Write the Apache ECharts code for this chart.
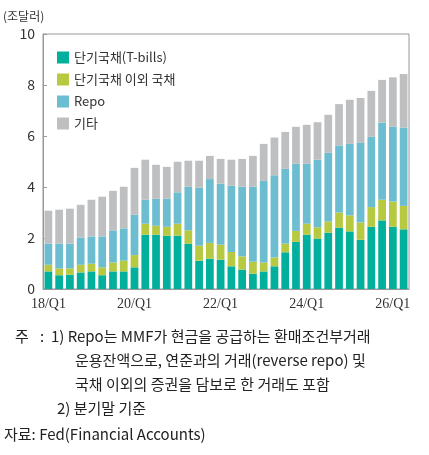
<!DOCTYPE html><html><head><meta charset="utf-8"><script src="https://cdn.jsdelivr.net/npm/echarts@6/dist/echarts.min.js"></script></head><body style="margin:0"><div id="c" style="width:429px;height:455px"></div><script>
const categories=[];for(let y=18;y<=26;y++)for(let q=1;q<=4;q++){if(y===26&&q>2)break;categories.push(y+'/Q'+q);}
const tbills=[0.69,0.54,0.56,0.65,0.69,0.54,0.69,0.69,0.85,2.13,2.13,2.09,2.09,1.78,1.11,1.19,1.15,0.89,0.76,0.60,0.69,0.89,1.44,1.85,2.13,1.98,2.21,2.40,2.26,1.93,2.44,2.69,2.44,2.34];
const otherTsy=[0.26,0.27,0.25,0.30,0.30,0.31,0.35,0.42,0.48,0.43,0.35,0.35,0.47,0.52,0.59,0.62,0.59,0.56,0.52,0.47,0.35,0.35,0.34,0.43,0.43,0.44,0.44,0.60,0.63,0.68,0.77,0.81,0.99,0.92];
const repo=[0.83,0.97,0.97,1.07,1.07,1.21,1.26,1.27,1.58,0.94,1.06,1.10,1.23,1.71,2.27,2.50,2.39,2.60,2.73,2.94,3.20,3.22,2.93,2.63,2.35,2.65,2.69,2.63,2.80,3.12,2.76,3.02,2.93,3.07];
const etc=[1.29,1.33,1.37,1.28,1.44,1.56,1.55,1.63,1.84,1.57,1.33,1.25,1.20,1.02,1.06,0.91,0.97,1.02,1.09,1.21,1.45,1.48,1.45,1.45,1.53,1.47,1.49,1.62,1.73,1.76,1.80,1.68,1.94,2.10];
const names=['단기국채(T-bills)','단기국채 이외 국채','Repo','기타'];
const colors=['#00b09c','#b6c940','#6dbdd1','#bdbfc1'];
const F='"Noto Sans CJK KR","Noto Sans",sans-serif';
const ch=echarts.init(document.getElementById('c'));
const notes=[['주',15,340],[':  1) Repo는 MMF가 현금을 공급하는 환매조건부거래',40,340],['운용잔액으로, 연준과의 거래(reverse repo) 및',75,364],['국채 이외의 증권을 담보로 한 거래도 포함',75,388],['2) 분기말 기준',57,412],['자료: Fed(Financial Accounts)',4,438]];
ch.setOption({animation:false,
grid:{left:40,right:20,top:34,bottom:166,show:true,borderColor:'#999',borderWidth:1},
legend:{orient:'vertical',left:52,top:46,itemWidth:12,itemHeight:12,itemGap:9,icon:'rect',textStyle:{fontFamily:F,fontSize:13,color:'#333'},data:names},
xAxis:{type:'category',data:categories,axisTick:{show:false},axisLine:{lineStyle:{color:'#999'}},axisLabel:{interval:7,fontFamily:'"Liberation Serif",serif',fontSize:14,color:'#333',margin:8}},
yAxis:{type:'value',min:0,max:10,interval:2,splitLine:{show:false},axisTick:{show:true,inside:true,length:4},axisLine:{show:true,lineStyle:{color:'#999'}},axisLabel:{fontFamily:F,fontSize:14,color:'#333'},name:'(조달러)',nameLocation:'end',nameGap:12,nameTextStyle:{fontFamily:F,fontSize:12,color:'#333',align:'left',padding:[0,0,0,-40]}},
graphic:notes.map(n=>({type:'text',left:n[1],top:n[2]-11,style:{text:n[0],font:'15px '+F,fill:'#222'}})),
series:[tbills,otherTsy,repo,etc].map((d,i)=>({name:names[i],type:'bar',stack:'a',data:d,barCategoryGap:'28%',itemStyle:{color:colors[i]}}))
});
</script></body></html>
